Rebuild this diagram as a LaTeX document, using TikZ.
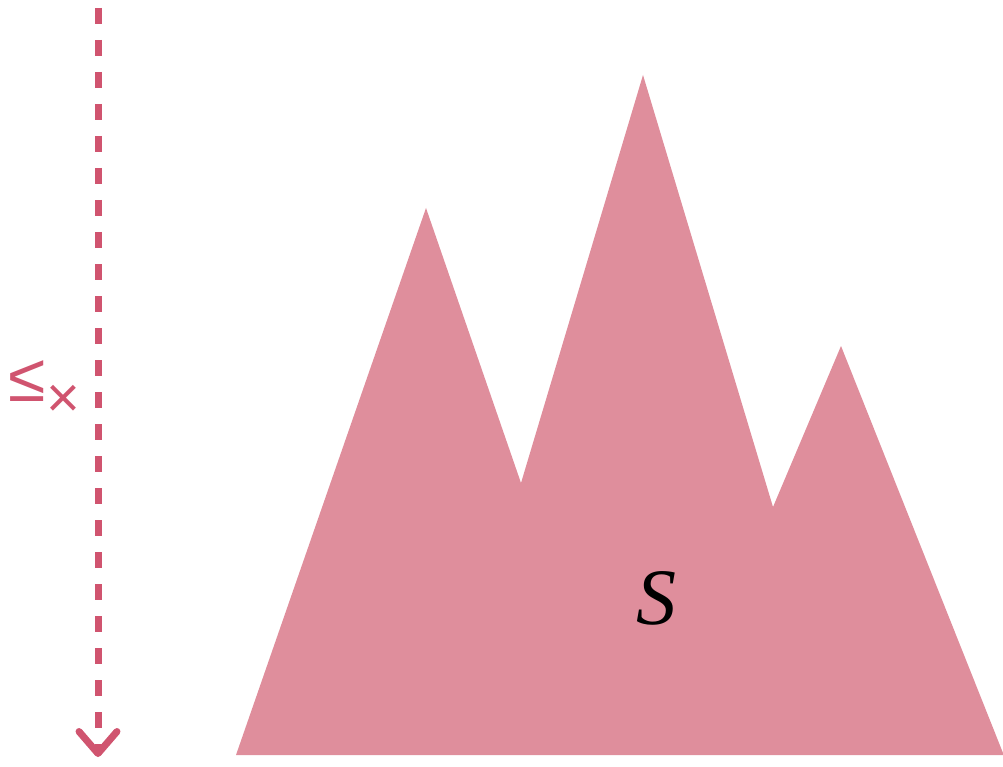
\documentclass[tikz,border=0pt]{standalone}
\usepackage{fontspec}
\setmainfont{Liberation Serif}
\newfontfamily\symfont{Liberation Sans}
\usetikzlibrary{arrows.meta}
\definecolor{fillpink}{HTML}{DF8E9C}
\definecolor{linepink}{HTML}{D0546F}
\tikzset{
  shapefill/.style={fill=fillpink, draw=none},
  orderline/.style={draw=linepink, line width=7pt, dash pattern=on 16pt off 16pt},
}
\begin{document}
\begin{tikzpicture}[x=1pt,y=-1pt]
\useasboundingbox (0,0) rectangle (1003,767);
\fill[shapefill] (236,755) -- (426,208) -- (521,483) -- (643,75) -- (773,507) -- (841,346) -- (1003,753) -- (1003,755) -- cycle;
\node[font=\fontsize{80}{80}\selectfont\itshape] (S) at (656,598) {S};
\coordinate (top) at (98,8);
\coordinate (bot) at (98,757);
\draw[orderline, -{Straight Barb[length=22pt,width=38pt,line cap=round,line join=round]}] (top) -- (bot);
\node[text=linepink, font=\symfont\fontsize{68}{68}\selectfont, inner sep=0pt] (lbl) at (27.5,381) {≤};
\node[text=linepink, font=\symfont\fontsize{58}{58}\selectfont, inner sep=0pt] (lblx) at (63.5,401) {×};
\end{tikzpicture}
\end{document}
